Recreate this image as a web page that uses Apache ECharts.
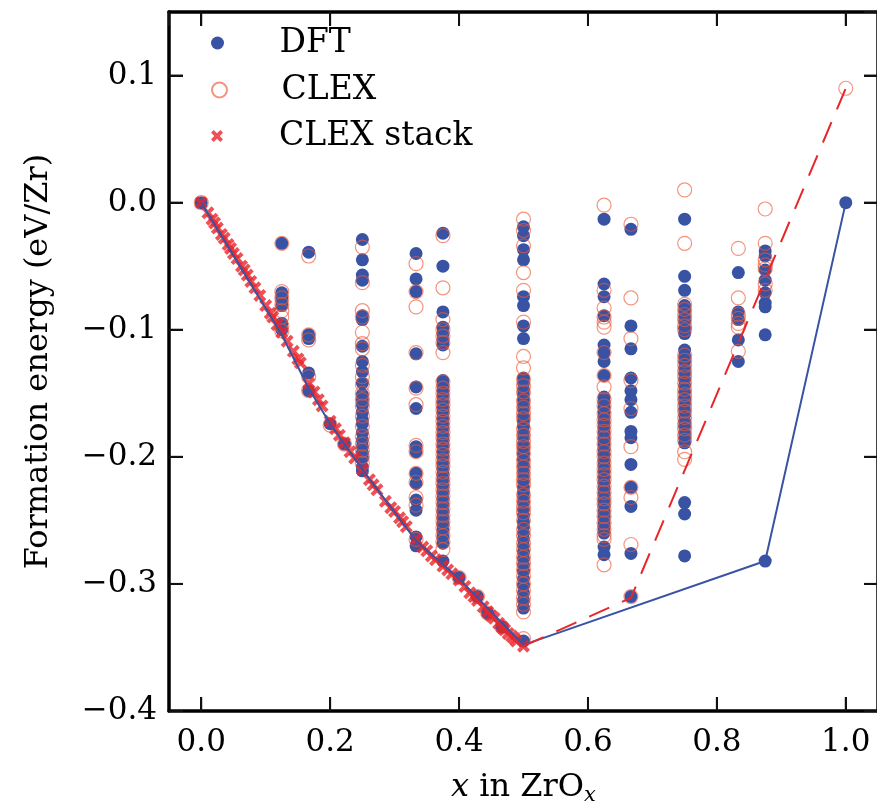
<!DOCTYPE html>
<html>
<head>
<meta charset="utf-8">
<script src="https://cdn.jsdelivr.net/npm/echarts@6/dist/echarts.min.js"></script>
<style>html,body{margin:0;padding:0;background:#fff;}#chart{width:877px;height:802px;}</style>
</head>
<body>
<div id="chart"></div>
<script>
// Axis ranges and tick values
const xRange = [-0.05, 1.05];
const yRange = [-0.4, 0.15];
const xTicks = [0, 0.2, 0.4, 0.6, 0.8, 1.0];
const yTicks = [-0.4, -0.3, -0.2, -0.1, 0, 0.1];

// Compositions (x in ZrO_x) of each column of structures
const compositions = [0, 0.125, 0.1667, 0.2, 0.2222, 0.25, 0.3333, 0.375, 0.4, 0.4286, 0.4444, 0.4667, 0.5, 0.625, 0.6667, 0.75, 0.8333, 0.875, 1.0];

// DFT formation energies (eV/Zr), one list per composition
const dftEnergies = [
  [0],
  [-0.032, -0.071, -0.074, -0.077, -0.081, -0.095, -0.1],
  [-0.039, -0.104, -0.107, -0.134, -0.148],
  [-0.174],
  [-0.19],
  [-0.029, -0.045, -0.057, -0.061, -0.089, -0.092, -0.113, -0.125, -0.133, -0.142, -0.151, -0.155, -0.159, -0.165, -0.171, -0.174, -0.181, -0.187, -0.192, -0.197, -0.201, -0.208, -0.211],
  [-0.04, -0.06, -0.07, -0.119, -0.145, -0.162, -0.192, -0.196, -0.213, -0.221, -0.234, -0.242, -0.263, -0.27],
  [-0.024, -0.05, -0.086, -0.098, -0.103, -0.108, -0.112, -0.14, -0.144, -0.148, -0.152, -0.157, -0.161, -0.165, -0.17, -0.174, -0.178, -0.183, -0.187, -0.191, -0.196, -0.2, -0.205, -0.209, -0.214, -0.218, -0.223, -0.228, -0.233, -0.238, -0.243, -0.248, -0.253, -0.258, -0.263, -0.268, -0.282],
  [-0.295],
  [-0.31],
  [-0.323],
  [-0.334],
  [-0.019, -0.026, -0.037, -0.045, -0.074, -0.081, -0.097, -0.107, -0.138, -0.142, -0.147, -0.151, -0.155, -0.159, -0.163, -0.168, -0.172, -0.176, -0.181, -0.185, -0.19, -0.194, -0.198, -0.202, -0.207, -0.211, -0.215, -0.219, -0.224, -0.228, -0.232, -0.236, -0.241, -0.246, -0.251, -0.255, -0.26, -0.265, -0.27, -0.275, -0.28, -0.285, -0.29, -0.296, -0.301, -0.307, -0.313, -0.319, -0.345],
  [-0.013, -0.064, -0.074, -0.089, -0.112, -0.118, -0.125, -0.136, -0.153, -0.157, -0.161, -0.165, -0.169, -0.173, -0.177, -0.181, -0.186, -0.19, -0.194, -0.198, -0.203, -0.207, -0.211, -0.216, -0.22, -0.225, -0.229, -0.234, -0.238, -0.243, -0.247, -0.252, -0.256, -0.26, -0.271, -0.277],
  [-0.021, -0.097, -0.115, -0.138, -0.148, -0.155, -0.165, -0.18, -0.185, -0.206, -0.224, -0.239, -0.276, -0.31],
  [-0.013, -0.058, -0.069, -0.081, -0.085, -0.09, -0.094, -0.099, -0.103, -0.116, -0.121, -0.125, -0.13, -0.134, -0.139, -0.144, -0.149, -0.154, -0.158, -0.163, -0.167, -0.172, -0.176, -0.181, -0.185, -0.189, -0.236, -0.245, -0.278],
  [-0.055, -0.086, -0.092, -0.108, -0.125],
  [-0.038, -0.042, -0.053, -0.061, -0.071, -0.079, -0.082, -0.104, -0.282],
  [0]
];

// CLEX predicted formation energies (eV/Zr), one list per composition
const clexEnergies = [
  [0],
  [-0.032, -0.07, -0.075, -0.08, -0.085, -0.09, -0.097, -0.101],
  [-0.042, -0.104, -0.108, -0.137, -0.148],
  [-0.175],
  [-0.19],
  [-0.035, -0.063, -0.085, -0.09, -0.102, -0.111, -0.115, -0.128, -0.137, -0.143, -0.15, -0.155, -0.16, -0.168, -0.176, -0.184, -0.19, -0.195, -0.2, -0.205],
  [-0.048, -0.07, -0.082, -0.118, -0.146, -0.159, -0.191, -0.196, -0.213, -0.22, -0.232, -0.238, -0.265],
  [-0.026, -0.067, -0.092, -0.1, -0.105, -0.11, -0.118, -0.141, -0.146, -0.15, -0.155, -0.159, -0.163, -0.168, -0.172, -0.176, -0.181, -0.185, -0.19, -0.194, -0.198, -0.203, -0.207, -0.212, -0.217, -0.221, -0.226, -0.231, -0.236, -0.241, -0.246, -0.251, -0.256, -0.262, -0.267, -0.273],
  [-0.295],
  [-0.31],
  [-0.323],
  [-0.334],
  [-0.013, -0.022, -0.034, -0.055, -0.069, -0.094, -0.121, -0.13, -0.139, -0.144, -0.149, -0.156, -0.161, -0.166, -0.17, -0.178, -0.183, -0.188, -0.192, -0.197, -0.203, -0.208, -0.213, -0.218, -0.222, -0.23, -0.235, -0.24, -0.244, -0.25, -0.257, -0.262, -0.268, -0.273, -0.279, -0.284, -0.289, -0.294, -0.3, -0.305, -0.311, -0.316, -0.322, -0.343],
  [-0.002, -0.069, -0.083, -0.09, -0.094, -0.098, -0.118, -0.136, -0.145, -0.155, -0.16, -0.166, -0.171, -0.175, -0.18, -0.185, -0.19, -0.196, -0.2, -0.205, -0.21, -0.214, -0.218, -0.223, -0.228, -0.233, -0.237, -0.242, -0.247, -0.252, -0.257, -0.262, -0.265, -0.285],
  [-0.017, -0.075, -0.107, -0.14, -0.162, -0.192, -0.224, -0.232, -0.269, -0.31],
  [0.01, -0.032, -0.08, -0.084, -0.088, -0.092, -0.097, -0.1, -0.12, -0.124, -0.128, -0.133, -0.137, -0.142, -0.147, -0.151, -0.155, -0.16, -0.164, -0.169, -0.174, -0.178, -0.183, -0.187, -0.196, -0.202],
  [-0.036, -0.075, -0.088, -0.091, -0.095, -0.098, -0.117],
  [-0.005, -0.032, -0.045, -0.049, -0.052, -0.064, -0.069],
  [0.09]
];

// CLEX stack (crosses)
const stackX = [0, 0.0104, 0.0167, 0.0208, 0.025, 0.0313, 0.0357, 0.0417, 0.0455, 0.05, 0.0556, 0.0625, 0.0667, 0.0714, 0.0769, 0.0833, 0.0909, 0.1, 0.1071, 0.1111, 0.1176, 0.125, 0.1333, 0.1429, 0.15, 0.1538, 0.1667, 0.175, 0.1818, 0.1875, 0.2, 0.2083, 0.2143, 0.2222, 0.2308, 0.2381, 0.25, 0.2609, 0.2667, 0.2727, 0.2857, 0.2941, 0.3, 0.3077, 0.3125, 0.3182, 0.3333, 0.3438, 0.35, 0.3571, 0.3636, 0.375, 0.3824, 0.3889, 0.4, 0.4091, 0.4167, 0.4231, 0.4286, 0.4375, 0.4444, 0.45, 0.4545, 0.4615, 0.4667, 0.4706, 0.4762, 0.4815, 0.4857, 0.4889, 0.5];
const stackE = [0, -0.008, -0.013, -0.016, -0.02, -0.025, -0.028, -0.033, -0.036, -0.04, -0.044, -0.05, -0.053, -0.057, -0.062, -0.067, -0.073, -0.081, -0.087, -0.09, -0.096, -0.102, -0.109, -0.117, -0.123, -0.126, -0.142, -0.149, -0.155, -0.16, -0.172, -0.178, -0.183, -0.189, -0.196, -0.201, -0.21, -0.218, -0.222, -0.226, -0.235, -0.24, -0.243, -0.248, -0.251, -0.255, -0.265, -0.271, -0.274, -0.278, -0.281, -0.286, -0.289, -0.292, -0.297, -0.302, -0.307, -0.31, -0.313, -0.318, -0.322, -0.325, -0.327, -0.331, -0.334, -0.336, -0.339, -0.341, -0.343, -0.345, -0.349];

// Convex hulls
const dftHullX = [0, 0.125, 0.1667, 0.2, 0.25, 0.3333, 0.4, 0.5, 0.875, 1.0];
const dftHullE = [0, -0.104, -0.146, -0.174, -0.21, -0.266, -0.296, -0.348, -0.282, 0];
const clexHullX = [0.5, 0.6667, 1.0];
const clexHullE = [-0.349, -0.311, 0.09];

const FONT = 'DejaVu Serif';
const BLUE = '#3953a4';
const RING = 'rgba(238,88,55,0.8)';
const RED = '#e8262a';
const CROSS = 'path://M2.2,0L5,2.8L7.8,0L10,2.2L7.2,5L10,7.8L7.8,10L5,7.2L2.2,10L0,7.8L2.8,5L0,2.2Z';
const TICK_LEN = 14;
// tick length expressed in axis units (14 px on a 709 x 699 px plot)
const TICK_DX = 0.0217;
const TICK_DY = 0.011;

function columnPoints(xs, es) {
  const out = [];
  xs.forEach((x, i) => es[i].forEach(e => out.push([x, e])));
  return out;
}
const fmt = v => v.toFixed(1).replace('-', '\u2212');

const chart = echarts.init(document.getElementById('chart'), null, {renderer: 'canvas'});

const axisLine = () => ({show: true, onZero: false, lineStyle: {color: '#000', width: 3.5}});
const axisTick = () => ({show: true, inside: true, length: TICK_LEN, lineStyle: {color: '#111', width: 2}});

const legendBase = () => ({
  orient: 'vertical', left: 206, itemWidth: 114, selectedMode: false,
  textStyle: {fontFamily: FONT, fontSize: 33, color: '#000', lineHeight: 36}
});

// Tick marks drawn as short line series through the chart's scales
const tickSeries = [];
const tickSeg = pts => ({
  type: 'line', z: 6, symbol: 'none', silent: true, clip: false, legendHoverLink: false,
  lineStyle: {color: '#111', width: 2}, data: pts
});
xTicks.forEach(v => {
  tickSeries.push(tickSeg([[v, yRange[0]], [v, yRange[0] + TICK_DY]]));
  tickSeries.push(tickSeg([[v, yRange[1]], [v, yRange[1] - TICK_DY]]));
});
yTicks.forEach(v => {
  tickSeries.push(tickSeg([[xRange[0], v], [xRange[0] + TICK_DX, v]]));
  tickSeries.push(tickSeg([[xRange[1], v], [xRange[1] - TICK_DX, v]]));
});

chart.setOption({
  animation: false,
  backgroundColor: '#fff',
  grid: {left: 169, top: 12, width: 709, height: 699, containLabel: false, outerBoundsMode: 'none'},
  legend: [
    Object.assign(legendBase(), {top: 20, itemHeight: 13, data: [{name: 'DFT', icon: 'circle'}]}),
    Object.assign(legendBase(), {top: 67, itemHeight: 15, data: [{name: 'CLEX', icon: 'circle'}]}),
    Object.assign(legendBase(), {top: 113, itemHeight: 12, data: [{name: 'CLEX stack', icon: CROSS}]})
  ],
  xAxis: [{
    type: 'value', min: xRange[0], max: xRange[1], splitNumber: 5, position: 'bottom',
    name: '{i|x} in ZrO{s|x}', nameLocation: 'middle', nameGap: 58,
    nameTextStyle: {fontFamily: FONT, fontSize: 32, color: '#000',
      rich: {i: {fontFamily: FONT, fontStyle: 'italic', fontSize: 32, color: '#000'},
             s: {fontFamily: FONT, fontStyle: 'italic', fontSize: 21, color: '#000', verticalAlign: 'bottom', padding: [16, 0, 0, 0]}}},
    axisLine: axisLine(), axisTick: axisTick(), splitLine: {show: false},
    axisLabel: {fontFamily: FONT, fontSize: 31, color: '#000', margin: 16, formatter: fmt, showMinLabel: false, showMaxLabel: false}
  }, {
    type: 'value', min: xRange[0], max: xRange[1], splitNumber: 5, position: 'top',
    axisLine: axisLine(), axisTick: axisTick(), splitLine: {show: false}, axisLabel: {show: false}
  }],
  yAxis: [{
    type: 'value', min: yRange[0], max: yRange[1], splitNumber: 5, position: 'left',
    name: 'Formation energy (eV/Zr)', nameLocation: 'middle', nameGap: 114,
    nameTextStyle: {fontFamily: FONT, fontSize: 32, color: '#000'},
    axisLine: axisLine(), axisTick: axisTick(), splitLine: {show: false},
    axisLabel: {fontFamily: FONT, fontSize: 31, color: '#000', margin: 12, formatter: fmt, showMaxLabel: false}
  }, {
    type: 'value', min: yRange[0], max: yRange[1], splitNumber: 5, position: 'right',
    axisLine: axisLine(), axisTick: axisTick(), splitLine: {show: false}, axisLabel: {show: false}
  }],
  series: [
    {
      name: 'DFT', type: 'scatter', z: 2, symbol: 'circle', symbolSize: 13,
      itemStyle: {color: BLUE, opacity: 1},
      data: columnPoints(compositions, dftEnergies)
    },
    {
      name: 'CLEX', type: 'scatter', z: 3, symbol: 'circle', symbolSize: 14,
      itemStyle: {color: 'rgba(255,255,255,0)', borderColor: RING, borderWidth: 1.2},
      data: columnPoints(compositions, clexEnergies)
    },
    {
      name: 'CLEX stack', type: 'scatter', z: 4, symbol: CROSS, symbolSize: 13,
      itemStyle: {color: RED},
      data: stackX.map((x, i) => [x, stackE[i]])
    },
    {
      name: 'DFT hull', type: 'line', z: 5, symbol: 'none',
      lineStyle: {color: BLUE, width: 2},
      data: dftHullX.map((x, i) => [x, dftHullE[i]])
    },
    {
      name: 'CLEX hull', type: 'line', z: 5, symbol: 'none',
      lineStyle: {color: RED, width: 2, type: [22, 14]},
      data: clexHullX.map((x, i) => [x, clexHullE[i]])
    }
  ].concat(tickSeries)
});
</script>
</body>
</html>
